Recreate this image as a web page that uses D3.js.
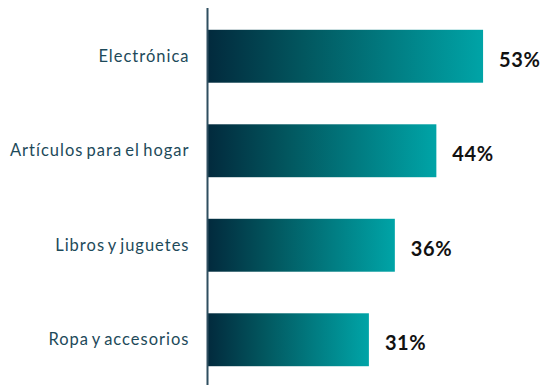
<!DOCTYPE html>
<html>
<head>
<meta charset="utf-8">
<script src="https://cdn.jsdelivr.net/npm/d3@7"></script>
<style>
  body { margin: 0; background: #fff; }
  svg { display: block; }
</style>
</head>
<body>
<div id="chart"></div>
<script>
const width = 543;
const height = 385;

// data
const categories = ["Electrónica", "Artículos para el hogar", "Libros y juguetes", "Ropa y accesorios"];
const values = [53, 44, 36, 31];
const valueLabels = ["53%", "44%", "36%", "31%"];

const data = categories.map((c, i) => ({ name: c, value: values[i], label: valueLabels[i] }));

const svg = d3
	.select("#chart")
	.append("svg")
	.attr("width", width)
	.attr("height", height);

const left = 208;

// gradient for bars
const defs = svg.append("defs");
const grad = defs
	.append("linearGradient")
	.attr("id", "barGrad")
	.attr("x1", "0%")
	.attr("x2", "100%")
	.attr("y1", "0%")
	.attr("y2", "0%");
grad.append("stop").attr("offset", "0%").attr("stop-color", "#022a3d");
grad.append("stop").attr("offset", "35%").attr("stop-color", "#02575f");
grad.append("stop").attr("offset", "100%").attr("stop-color", "#00a4a7");

const x = d3.scaleLinear().domain([0, 100]).range([left, left + 519]);

const y = d3
	.scaleBand()
	.domain(categories)
	.range([9, 9 + 4 * 94.5])
	.paddingInner(0.44)
	.paddingOuter(0.22);

// bars
svg
	.selectAll("rect.bar")
	.data(data)
	.enter()
	.append("rect")
	.attr("class", "bar")
	.attr("x", x(0))
	.attr("y", d => y(d.name))
	.attr("width", d => x(d.value) - x(0))
	.attr("height", y.bandwidth())
	.attr("fill", "url(#barGrad)");

// value labels
svg
	.selectAll("text.val")
	.data(data)
	.enter()
	.append("text")
	.attr("class", "val")
	.attr("x", d => x(d.value) + 16)
	.attr("y", d => y(d.name) + y.bandwidth() / 2 + 10.5)
	.attr("font-family", "Lato, sans-serif")
	.attr("font-weight", "bold")
	.attr("font-size", 20)
	.attr("letter-spacing", 0.6)
	.attr("fill", "#111")
	.text(d => d.label);

// category axis
const yAxis = d3.axisLeft(y).tickSize(0).tickPadding(18);
const ag = svg.append("g").attr("transform", `translate(${left - 0.5},0)`).call(yAxis);
ag.select(".domain")
	.attr("d", `M0,8V${height}`)
	.attr("stroke", "#2f4f60")
	.attr("stroke-width", 2);
ag.selectAll("text")
	.attr("font-family", "Lato, sans-serif")
	.attr("font-size", 16.5)
	.attr("letter-spacing", 1)
	.attr("word-spacing", -2)
	.attr("fill", "#1d4a5a");
</script>
</body>
</html>
